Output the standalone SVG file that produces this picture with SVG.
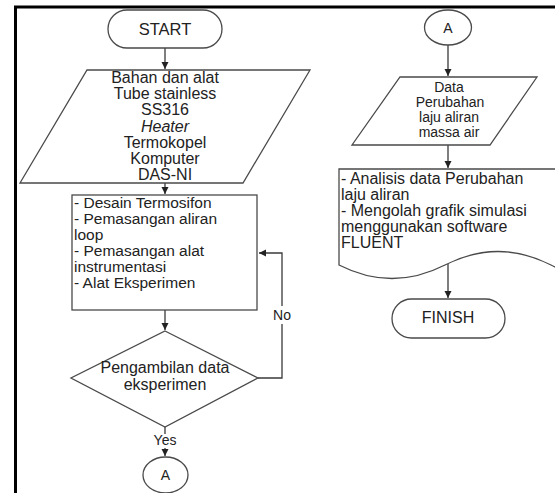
<svg xmlns="http://www.w3.org/2000/svg" width="555" height="493" viewBox="0 0 555 493">
<style>
.s{fill:#fff;stroke:#4a4a4a;stroke-width:1.3}
.c{fill:none;stroke:#3a3a3a;stroke-width:1.3}
text{font-family:"Liberation Sans",Arial,sans-serif;font-size:16px;fill:#222}
.m{text-anchor:middle}
.r{font-size:15.5px}
.d{font-size:16px}
.p{font-size:14px}
</style>
<defs>
<marker id="ah" markerWidth="8" markerHeight="8" refX="7" refY="4" orient="auto" markerUnits="userSpaceOnUse">
<path d="M0,0.5 L7,4 L0,7.5 Z" fill="#222"/>
</marker>
</defs>
<rect width="555" height="493" fill="#fff"/>
<path d="M15.5,493 V7 H555" fill="none" stroke="#000" stroke-width="3"/>
<g id="connectors">
<path class="c" d="M165,48 V69" marker-end="url(#ah)"/>
<path class="c" d="M165,183 V194" marker-end="url(#ah)"/>
<path class="c" d="M165,310 V330" marker-end="url(#ah)"/>
<path class="c" d="M258,378 H282 V253 H259" marker-end="url(#ah)"/>
<path class="c" d="M165,427 V456" marker-end="url(#ah)"/>
<path class="c" d="M448,45 V76" marker-end="url(#ah)"/>
<path class="c" d="M448,145 V168" marker-end="url(#ah)"/>
<path class="c" d="M448,264 V298" marker-end="url(#ah)"/>
<rect x="272" y="306" width="20" height="18" fill="#fff"/>
<text class="m p" x="282" y="320">No</text>
<rect x="151" y="434" width="28" height="14" fill="#fff"/>
<text class="m p" x="165" y="445">Yes</text>
</g>
<g id="start">
<rect class="s" x="108" y="10" width="114" height="38" rx="19"/>
<text class="m" x="165" y="35" style="font-size:16.5px">START</text>
</g>
<g id="bahan">
<path class="s" d="M87,70 H310 L243,183 H20 Z"/>
<text class="m" x="165" y="83">Bahan dan alat</text>
<text class="m" x="165" y="99">Tube stainless</text>
<text class="m" x="165" y="115">SS316</text>
<text class="m" x="165" y="131.5" font-style="italic">Heater</text>
<text class="m" x="165" y="147.5">Termokopel</text>
<text class="m" x="165" y="164">Komputer</text>
<text class="m" x="165" y="180">DAS-NI</text>
</g>
<g id="desain">
<rect class="s" x="72" y="195" width="185" height="115"/>
<text class="r" x="74" y="207.5">- Desain Termosifon</text>
<text class="r" x="74" y="223.6">- Pemasangan aliran</text>
<text class="r" x="74" y="239.7">loop</text>
<text class="r" x="74" y="255.8">- Pemasangan alat</text>
<text class="r" x="74" y="272">instrumentasi</text>
<text class="r" x="74" y="288">- Alat Eksperimen</text>
</g>
<g id="pengambilan">
<path class="s" d="M165,331 L258,378 L165,427 L71,378 Z"/>
<text class="m" x="165" y="373">Pengambilan data</text>
<text class="m" x="165" y="390">eksperimen</text>
</g>
<g id="a1">
<ellipse class="s" cx="165.5" cy="475" rx="22.5" ry="18"/>
<text class="m p" x="165.5" y="480">A</text>
</g>
<g id="a2">
<ellipse class="s" cx="448" cy="27.5" rx="23.5" ry="17.5"/>
<text class="m p" x="448" y="33">A</text>
</g>
<g id="data">
<path class="s" d="M400,77 H537 L490,145 H352 Z"/>
<text class="m p" x="449" y="91.7">Data</text>
<text class="m p" x="450" y="106.7">Perubahan</text>
<text class="m p" x="449" y="121.7">laju aliran</text>
<text class="m p" x="449" y="136.7">massa air</text>
</g>
<g id="analisis">
<path class="s" d="M339,265 Q392,292 445,265 T551,265 T657,265 V169 H339 Z"/>
<text class="d" x="341" y="184">- Analisis data Perubahan</text>
<text class="d" x="341" y="200">laju aliran</text>
<text class="d" x="341" y="216">- Mengolah grafik simulasi</text>
<text class="d" x="341" y="232">menggunakan software</text>
<text class="d" x="341" y="248">FLUENT</text>
</g>
<g id="finish">
<rect class="s" x="392" y="299" width="113" height="39" rx="19.5"/>
<text class="m" x="448" y="322.5" style="font-size:16px">FINISH</text>
</g>
</svg>
